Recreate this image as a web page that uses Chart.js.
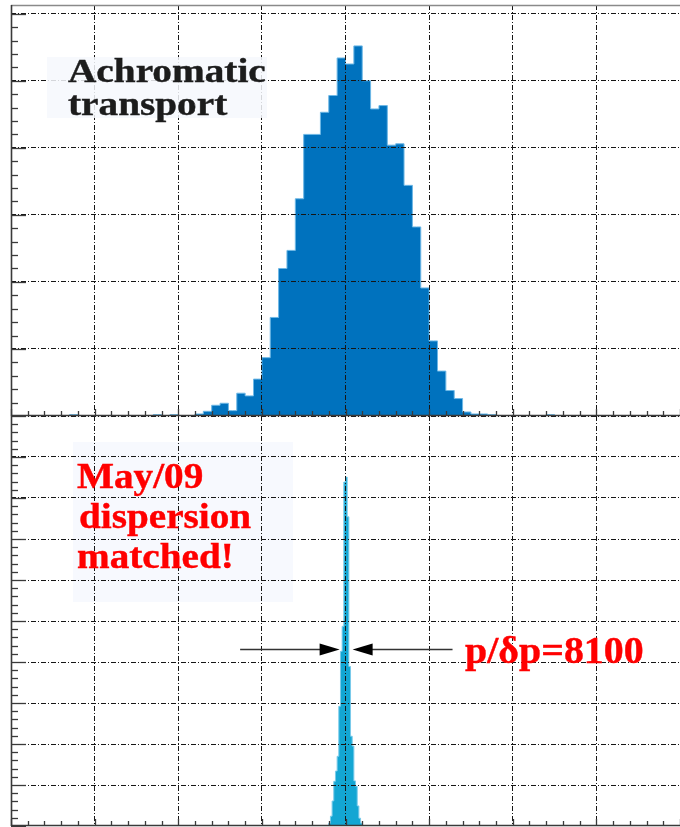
<!DOCTYPE html>
<html>
<head>
<meta charset="utf-8">
<script src="https://cdn.jsdelivr.net/npm/chart.js@4.4.1/dist/chart.umd.min.js"></script>
<style>
  html, body { margin: 0; padding: 0; background: #fff; }
  #wrap { position: relative; width: 680px; height: 827px; overflow: hidden; }
  canvas { position: absolute; left: 0; }
  #topChart { top: 0; z-index: 2; }
  #bottomChart { top: 416px; z-index: 1; }
</style>
</head>
<body>
<div id="wrap">
  <canvas id="topChart" width="680" height="417"></canvas>
  <canvas id="bottomChart" width="680" height="411"></canvas>
</div>
<script>
// achromatic transport: counts in each of the 80 momentum bins
const topCounts = [
  0, 0, 0, 0, 0, 0, 0, 2, 0, 0,
  0, 0, 0, 0, 0, 0, 0, 2, 0, 2,
  0, 0, 3, 7, 16, 19, 8, 34, 30, 55,
  87, 147, 220, 247, 324, 420, 420, 453, 478, 534,
  525, 552, 500, 458, 463, 404, 406, 344, 282, 191,
  112, 67, 38, 26, 6, 3, 3, 2, 0, 0,
  0, 0, 0, 0, 2, 0, 0, 0, 0, 0,
  0, 0, 0, 0, 0, 0, 0, 0, 0, 0
];

// dispersion matched: fine bins (1/5 of the coarse width) around the peak
const peakX = [37.9, 38.1, 38.3, 38.5, 38.7, 38.9, 39.1, 39.3, 39.5, 39.7, 39.9,
               40.1, 40.3, 40.5, 40.7, 40.9, 41.1, 41.3, 41.5, 41.7, 41.9, 42.1];
const peakCounts = [0, 7, 24, 61, 109, 134, 170, 292, 426, 487, 839,
                    851, 754, 389, 219, 195, 110, 97, 49, 19, 7, 0];

const xMax = 80;
const topYMax = 613;
const bottomYMax = 1000;

const gridColor = '#161616';
const axisColor = '#3a3a3a';
const serif = '"Liberation Serif", "Times New Roman", serif';

// axes with ticks pointing inwards, drawn over the grid
const frame = {
  id: 'frame',
  afterDraw(chart, args, opts) {
    const { ctx, chartArea: a, scales: { x, y } } = chart;
    ctx.save();
    ctx.strokeStyle = axisColor;

    if (opts.topLine) {
      ctx.strokeStyle = '#8a8a8a';
      ctx.lineWidth = 1.5;
      ctx.beginPath();
      ctx.moveTo(a.left, a.top + 0.5);
      ctx.lineTo(a.right, a.top + 0.5);
      ctx.stroke();
      ctx.strokeStyle = axisColor;
    }

    // left axis and its ticks
    ctx.lineWidth = 1.6;
    ctx.beginPath();
    ctx.moveTo(a.left + 0.5, a.top);
    ctx.lineTo(a.left + 0.5, a.bottom);
    ctx.stroke();
    ctx.lineWidth = 1.3;
    const nY = Math.floor(y.max / opts.yMinor + 1e-6);
    for (let k = 0; k <= nY; k++) {
      const py = Math.round(y.getPixelForValue(k * opts.yMinor)) + 0.5;
      const len = (k % opts.yPer === 0) ? 15 : 7;
      ctx.beginPath();
      ctx.moveTo(a.left, py);
      ctx.lineTo(a.left + len, py);
      ctx.stroke();
    }

    // bottom axis and its ticks
    ctx.lineWidth = 1.6;
    ctx.beginPath();
    ctx.moveTo(a.left, a.bottom - 0.5);
    ctx.lineTo(a.right, a.bottom - 0.5);
    ctx.stroke();
    ctx.lineWidth = 1.3;
    for (let k = 0; k <= xMax / 2; k++) {
      const px = Math.round(x.getPixelForValue(k * 2)) + 0.5;
      const len = (k % 5 === 0) ? 7 : 5;
      ctx.beginPath();
      ctx.moveTo(px, a.bottom);
      ctx.lineTo(px, a.bottom - len);
      ctx.stroke();
    }
    ctx.restore();
  }
};

// bold serif text, widened a little
function stretchedText(ctx, str, x, y, sx) {
  ctx.save();
  ctx.translate(x, y);
  ctx.scale(sx, 1);
  ctx.lineWidth = 0.4;
  ctx.strokeStyle = ctx.fillStyle;
  ctx.fillText(str, 0, 0);
  ctx.strokeText(str, 0, 0);
  ctx.restore();
}

function scalesFor(yMax, yStep) {
  const grid = {
    z: 1,
    drawTicks: false,
    lineWidth: 1,
    color: c => (c.tick && c.tick.value === 0) ? 'rgba(0,0,0,0)' : gridColor
  };
  return {
    x: {
      type: 'linear', min: 0, max: xMax,
      afterFit: s => { s.height = 0; },
      ticks: { display: false, stepSize: 10, includeBounds: false },
      grid: grid,
      border: { display: false, dash: [5, 2, 1, 2] }
    },
    y: {
      type: 'linear', min: 0, max: yMax,
      afterFit: s => { s.width = 0; },
      ticks: { display: false, stepSize: yStep, includeBounds: false },
      grid: grid,
      border: { display: false, dash: [5, 2, 1, 2] }
    }
  };
}

const common = {
  responsive: false,
  animation: false,
  events: [],
  plugins: { legend: { display: false }, tooltip: { enabled: false } }
};

// top panel
new Chart(document.getElementById('topChart'), {
  type: 'line',
  data: {
    datasets: [{
      data: topCounts.map((c, i) => ({ x: i + 0.5, y: c })),
      stepped: 'middle',
      fill: 'origin',
      backgroundColor: '#0072BE',
      borderColor: '#6DB8E6',
      borderWidth: 1,
      pointRadius: 0
    }]
  },
  options: {
    ...common,
    layout: { padding: { left: 11, top: 5, right: 0, bottom: 1 } },
    scales: scalesFor(topYMax, 100),
    plugins: {
      ...common.plugins,
      frame: { yMinor: 20, yPer: 5, topLine: true }
    }
  },
  plugins: [frame, {
    id: 'topLabel',
    afterDraw(chart) {
      const ctx = chart.ctx;
      ctx.save();
      ctx.fillStyle = 'rgba(246,248,253,0.85)';
      ctx.fillRect(47, 57, 220, 61);
      ctx.fillStyle = '#1c1c1c';
      ctx.font = 'bold 33px ' + serif;
      ctx.textBaseline = 'alphabetic';
      stretchedText(ctx, 'Achromatic', 68, 82, 1.19);
      stretchedText(ctx, 'transport', 68, 115, 1.19);
      ctx.restore();
    }
  }]
});

// bottom panel
new Chart(document.getElementById('bottomChart'), {
  type: 'line',
  data: {
    datasets: [{
      data: peakX.map((x, i) => ({ x: x, y: peakCounts[i] })),
      stepped: 'middle',
      fill: 'origin',
      backgroundColor: '#13A6D3',
      borderColor: '#7ACBEA',
      borderWidth: 1,
      pointRadius: 0
    }]
  },
  options: {
    ...common,
    layout: { padding: { left: 11, top: 0, right: 0, bottom: 1 } },
    scales: scalesFor(bottomYMax, 100),
    plugins: {
      ...common.plugins,
      frame: { yMinor: 20, yPer: 5, topLine: false }
    }
  },
  plugins: [frame, {
    id: 'bottomBox',
    beforeDatasetsDraw(chart) {
      const ctx = chart.ctx;
      ctx.save();
      ctx.fillStyle = '#F7F9FE';
      ctx.fillRect(73, 26, 220, 160);
      ctx.restore();
    },
    afterDraw(chart) {
      const ctx = chart.ctx;
      ctx.save();
      ctx.fillStyle = '#FF0000';
      ctx.font = 'bold 35px ' + serif;
      stretchedText(ctx, 'May/09', 77, 72, 1.12);
      stretchedText(ctx, 'dispersion', 79, 112, 1.12);
      stretchedText(ctx, 'matched!', 77, 152, 1.12);
      ctx.font = 'bold 38px ' + serif;
      ctx.fillStyle = '#FF0000';
      stretchedText(ctx, 'p/\u03B4p=8100', 465, 247, 1.05);

      // arrows marking the peak width
      const x = chart.scales.x;
      const ay = 233.5;
      const arrow = (tail, tip) => {
        const dir = Math.sign(tip - tail);
        ctx.strokeStyle = '#333';
        ctx.lineWidth = 1.3;
        ctx.beginPath();
        ctx.moveTo(tail, ay);
        ctx.lineTo(tip - dir * 18, ay);
        ctx.stroke();
        ctx.fillStyle = '#000';
        ctx.beginPath();
        ctx.moveTo(tip, ay);
        ctx.lineTo(tip - dir * 20, ay - 6);
        ctx.lineTo(tip - dir * 20, ay + 6);
        ctx.closePath();
        ctx.fill();
      };
      arrow(x.getPixelForValue(27.4), x.getPixelForValue(39.3));
      arrow(x.getPixelForValue(52.8), x.getPixelForValue(40.85));
      ctx.restore();
    }
  }]
});
</script>
</body>
</html>
